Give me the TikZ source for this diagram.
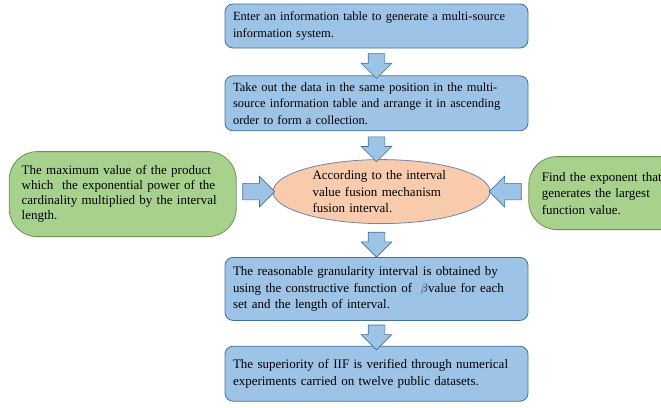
\documentclass[tikz,border=0pt]{standalone}
\usepackage{fontspec}
\setmainfont{Liberation Serif}
\usetikzlibrary{shapes.geometric, shapes.arrows, positioning, calc}
\definecolor{boxblue}{HTML}{9DC3E6}
\definecolor{lineblue}{HTML}{41719C}
\definecolor{boxgreen}{HTML}{A9D18E}
\definecolor{linegreen}{HTML}{6E9150}
\definecolor{boxorange}{HTML}{F8CBAD}
\definecolor{lineorange}{HTML}{6F86A8}

\tikzset{
  stepbox/.style={draw=lineblue, fill=boxblue, line width=0.8pt, rounded corners=8pt,
    text width=287pt, inner xsep=8pt, inner ysep=2pt, align=left, minimum height=#1},
  sidebox/.style={draw=linegreen, fill=boxgreen, line width=0.8pt, rounded corners=28pt,
    align=left, inner ysep=2pt},
  fusebox/.style={ellipse, draw=lineorange, fill=boxorange, line width=0.8pt,
    text width=138pt, align=left, inner sep=0pt, minimum width=217pt, minimum height=64pt},
  flowarrow/.style 2 args={single arrow, draw=lineblue, fill=boxblue, line width=0.6pt,
    inner sep=8pt, single arrow head extend=7pt, minimum height=#1, shape border rotate=#2},
  bigtext/.style={font=\fontsize{13}{16.5}\selectfont},
}

\begin{document}
\begin{tikzpicture}[font=\fontsize{12.5}{16.5}\selectfont]
    \useasboundingbox (0pt,0pt) rectangle (661pt,-407pt);
    \node[stepbox=44pt] (enter) at (376.5pt,-26pt) {Enter an information table to generate a multi-source\\information system.};
    \node[stepbox=55pt, below=27pt of enter] (collect) {Take out the data in the same position in the multi-\\source information table and arrange it in ascending\\order to form a collection.};
    \node[fusebox, bigtext, below=28pt of collect, xshift=5pt] (fuse) {According to the interval\\value fusion mechanism\\fusion interval.};
    \node[sidebox, font=\fontsize{13}{15}\selectfont, text width=202pt, inner xsep=12.5pt, minimum height=85pt, left=36pt of fuse, yshift=-2.5pt] (maxprod) {The maximum value of the product\\which\ \ the exponential power of the\\cardinality multiplied by the interval\\length.};
    \node[sidebox, bigtext, text width=160pt, inner xsep=13pt, minimum height=73pt, right=38pt of fuse, yshift=-1.5pt] (expo) {Find the exponent that\\generates the largest\\function value.};
    \node[stepbox=63pt, bigtext, below=33pt of fuse, xshift=-5pt] (granul) {The reasonable granularity interval is obtained by\\using the constructive function of \ $\beta$value for each\\set and the length of interval.};
    \node[stepbox=55pt, bigtext, below=25pt of granul] (verify) {The superiority of IIF is verified through numerical\\experiments carried on twelve public datasets.};
    % block arrows between the boxes
    \node[flowarrow={23pt}{270}] (a1) at ($(enter.south)!0.5!(collect.north)$) {};
    \node[flowarrow={24pt}{270}] (a2) at ($(collect.south)!0.5!(collect.south|-fuse.north)$) {};
    \node[flowarrow={24pt}{270}] (a3) at ($(granul.north)!0.5!(granul.north|-fuse.south)$) {};
    \node[flowarrow={22pt}{270}] (a4) at ($(granul.south)!0.5!(verify.north)$) {};
    \node[flowarrow={32pt}{0}] (a5) at ($(fuse.west)!0.5!(fuse.west-|maxprod.east)$) {};
    \node[flowarrow={32pt}{180}] (a6) at ($(fuse.east)!0.5!(fuse.east-|expo.west)$) {};
\end{tikzpicture}
\end{document}
